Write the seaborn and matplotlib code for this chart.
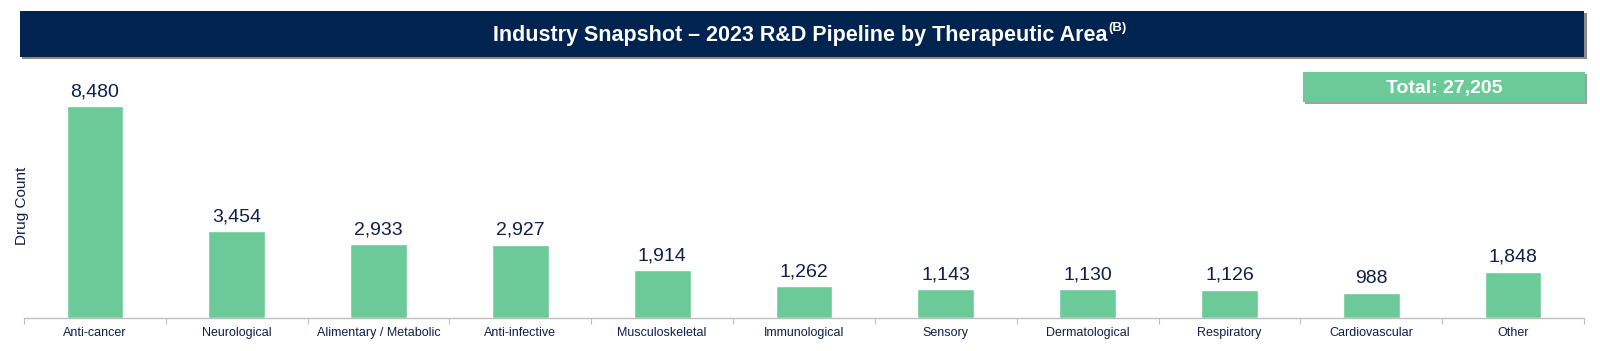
import matplotlib
matplotlib.use("Agg")
import matplotlib.pyplot as plt
import seaborn as sns
import pandas as pd
from matplotlib.patches import Rectangle

categories = ["Anti-cancer", "Neurological", "Alimentary / Metabolic", "Anti-infective",
              "Musculoskeletal", "Immunological", "Sensory", "Dermatological",
              "Respiratory", "Cardiovascular", "Other"]
values = [8480, 3454, 2933, 2927, 1914, 1262, 1143, 1130, 1126, 988, 1848]
title = "Industry Snapshot \u2013 2023 R&D Pipeline by Therapeutic Area"
title_sup = "(B)"
total_label = "Total: 27,205"
y_label = "Drug Count"

NAVY = "#00234F"
TEXT = "#0F1E4B"
GREEN = "#6CCA98"

sns.set_theme(style="white")
plt.rcParams["font.family"] = ["Liberation Sans", "DejaVu Sans"]

W, H = 1600, 351
fig = plt.figure(figsize=(16, 3.51), dpi=100)

def fx(px):
    return px / W

def fy(py):
    return 1 - py / H

ax = fig.add_axes([fx(24), fy(317.7), fx(1560), (317.7 - 60) / H])
df = pd.DataFrame({"cat": categories, "val": values})
sns.barplot(data=df, x="cat", y="val", color=GREEN, saturation=1, width=0.4, ax=ax)
ax.set_xlim(-0.5, len(categories) - 0.5)
ax.set_ylim(0, 10308)
for c in ax.containers:
    ax.bar_label(c, labels=[f"{v:,}" for v in values], padding=4, fontsize=14, color=TEXT)

for s in ["top", "right", "left"]:
    ax.spines[s].set_visible(False)
ax.spines["bottom"].set_color("#BFBFBF")
ax.spines["bottom"].set_linewidth(1.0)
ax.set_yticks([])
ax.set_xlabel("")
ax.set_ylabel("")
ax.set_xticks(range(len(categories)))
ax.set_xticklabels(categories, fontsize=9, color=TEXT)
ax.set_xticks([i - 0.5 for i in range(len(categories) + 1)], minor=True)
ax.tick_params(axis="x", which="major", length=0, pad=7)
ax.tick_params(axis="x", which="minor", length=4, width=0.8, color="#BFBFBF", direction="out", bottom=True)

fig.text(fx(22), fy(206), y_label, rotation=90, ha="center", va="center", fontsize=11, color=TEXT)

# Title banner with shadow
fig.patches.append(Rectangle((fx(22), fy(59)), fx(1565), (59 - 13) / H, transform=fig.transFigure,
                             facecolor="#8A8A8A", edgecolor="none", zorder=1))
fig.patches.append(Rectangle((fx(20), fy(57)), fx(1564), (57 - 11) / H, transform=fig.transFigure,
                             facecolor=NAVY, edgecolor="none", zorder=2))
t = fig.text(0.5, fy(35), title, ha="center", va="center", fontsize=15.5, fontweight="bold",
             color="white", zorder=3)
fig.canvas.draw()
bb = t.get_window_extent()
fig.text(bb.x1 / W + 0.0005, fy(28), title_sup, ha="left", va="center", fontsize=9.5,
         fontweight="bold", color="white", zorder=3)

# Total box with shadow
fig.patches.append(Rectangle((fx(1305), fy(104)), fx(282), (104 - 74) / H, transform=fig.transFigure,
                             facecolor="#A0A0A0", edgecolor="none", zorder=1))
fig.patches.append(Rectangle((fx(1303), fy(101.7)), fx(282), 30 / H, transform=fig.transFigure,
                             facecolor=GREEN, edgecolor="none", zorder=2))
fig.text(fx(1444), fy(87), total_label, ha="center", va="center_baseline", fontsize=14, fontweight="bold",
         color="white", zorder=3)

fig.savefig("out.png", dpi=100)
